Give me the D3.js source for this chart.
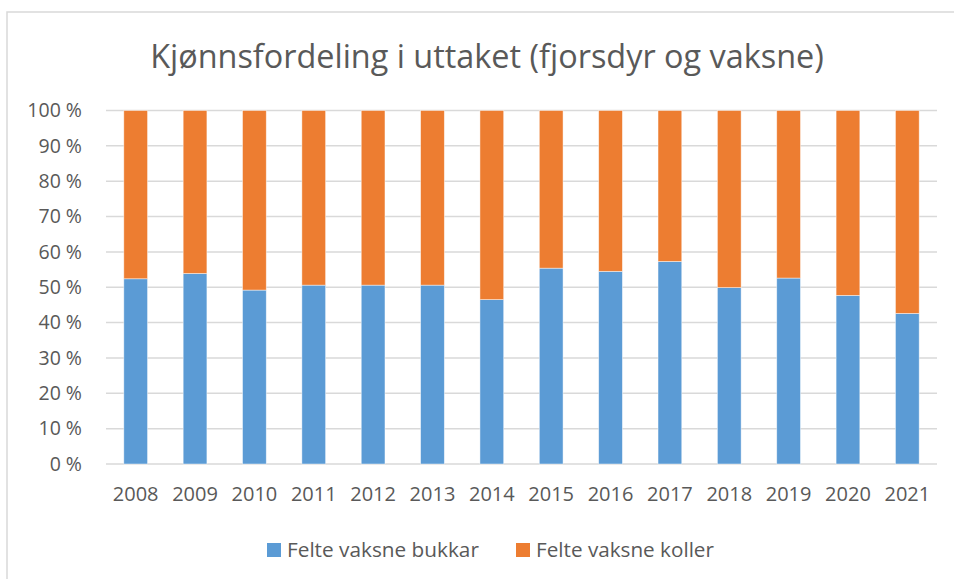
<!DOCTYPE html>
<html>
<head>
<meta charset="utf-8">
<script src="https://cdn.jsdelivr.net/npm/d3@7"></script>
<style>
  body { margin: 0; background: #fff; }
  text { font-family: "Open Sans", "Noto Sans", sans-serif; fill: #595959; }
</style>
</head>
<body>
<div id="chart"></div>
<script>
var years = ['2008', '2009', '2010', '2011', '2012', '2013', '2014',
  '2015', '2016', '2017', '2018', '2019', '2020', '2021'];
// share of adult males (bukkar), rest is females (koller)
var bukkar = [52.4, 53.9, 49.2, 50.6, 50.6, 50.6, 46.5, 55.4, 54.5, 57.3, 49.9, 52.6, 47.7, 42.6];
var koller = bukkar.map(function (d) { return 100 - d; });
var seriesNames = ['Felte vaksne bukkar', 'Felte vaksne koller'];
var colors = ['#5B9BD5', '#ED7D31'];
var yTicks = [0, 10, 20, 30, 40, 50, 60, 70, 80, 90, 100];

var chart_width = 954;
var chart_height = 579;

var svg = d3.select('#chart')
  .append('svg')
  .attr('width', chart_width)
  .attr('height', chart_height);

// chart frame
svg.append('rect')
  .attr('x', 7)
  .attr('y', 12)
  .attr('width', 960)
  .attr('height', 600)
  .attr('fill', 'none')
  .attr('stroke', '#d9d9d9')
  .attr('stroke-width', 1.5);

// title
var title = svg.append('text')
  .attr('x', 487)
  .attr('y', 68)
  .attr('text-anchor', 'middle')
  .attr('font-size', 31)
  .text('Kjønnsfordeling i uttaket (fjorsdyr og vaksne)');

function fitWidth(sel, target) {
  var w = sel.node().getComputedTextLength();
  var fs = +sel.attr('font-size');
  sel.attr('font-size', fs * target / w);
}
fitWidth(title, 674);

// scales
var xScale = d3.scaleBand()
  .domain(years)
  .range([106, 937])
  .paddingInner(0.6)
  .paddingOuter(0.3);

var yScale = d3.scaleLinear()
  .domain([0, 100])
  .range([464, 110.5]);

// gridlines
svg.selectAll('line.grid')
  .data(yTicks)
  .enter()
  .append('line')
  .attr('class', 'grid')
  .attr('x1', 106)
  .attr('x2', 937)
  .attr('y1', function (d) { return yScale(d); })
  .attr('y2', function (d) { return yScale(d); })
  .attr('stroke', '#d9d9d9')
  .attr('stroke-width', 1.5);

// y axis labels
var yAxis = d3.axisLeft(yScale)
  .tickValues(yTicks)
  .tickSize(0)
  .tickPadding(0)
  .tickFormat(function (d) { return d + ' %'; });

svg.append('g')
  .attr('transform', 'translate(82,0)')
  .call(yAxis)
  .call(function (g) { g.select('.domain').remove(); })
  .selectAll('text')
  .attr('font-size', 19.5)
  .attr('fill', '#595959')
  .style('font-family', '"Open Sans", sans-serif');

// x axis labels
var xAxis = d3.axisBottom(xScale).tickSize(0).tickPadding(0);
svg.append('g')
  .attr('transform', 'translate(0,487)')
  .call(xAxis)
  .call(function (g) { g.select('.domain').remove(); })
  .selectAll('text')
  .attr('font-size', 20)
  .attr('dy', '0.71em')
  .attr('fill', '#595959')
  .style('font-family', '"Open Sans", sans-serif');

// stacked bars
var table = years.map(function (y, i) {
  return { year: y, bukkar: bukkar[i], koller: koller[i] };
});
var stack = d3.stack().keys(['bukkar', 'koller']);
var layers = stack(table);

svg.selectAll('g.layer')
  .data(layers)
  .enter()
  .append('g')
  .attr('class', 'layer')
  .attr('fill', function (d, i) { return colors[i]; })
  .selectAll('rect')
  .data(function (d) { return d; })
  .enter()
  .append('rect')
  .attr('x', function (d) { return xScale(d.data.year); })
  .attr('y', function (d) { return yScale(d[1]); })
  .attr('width', xScale.bandwidth())
  .attr('height', function (d) { return yScale(d[0]) - yScale(d[1]); })
  .attr('stroke', '#fff')
  .attr('stroke-width', 0.75)
  .attr('stroke-opacity', 0.6);

// legend
var legendX = [267, 516];
var legendWidths = [192, 178];
var legend = svg.selectAll('g.legend')
  .data(seriesNames)
  .enter()
  .append('g')
  .attr('class', 'legend')
  .attr('transform', function (d, i) { return 'translate(' + legendX[i] + ',543)'; });

legend.append('rect')
  .attr('width', 14)
  .attr('height', 14)
  .attr('fill', function (d, i) { return colors[i]; });

legend.append('text')
  .attr('x', 20)
  .attr('y', 13.5)
  .attr('font-size', 19)
  .text(function (d) { return d; })
  .each(function (d, i) { fitWidth(d3.select(this), legendWidths[i]); });
</script>
</body>
</html>
